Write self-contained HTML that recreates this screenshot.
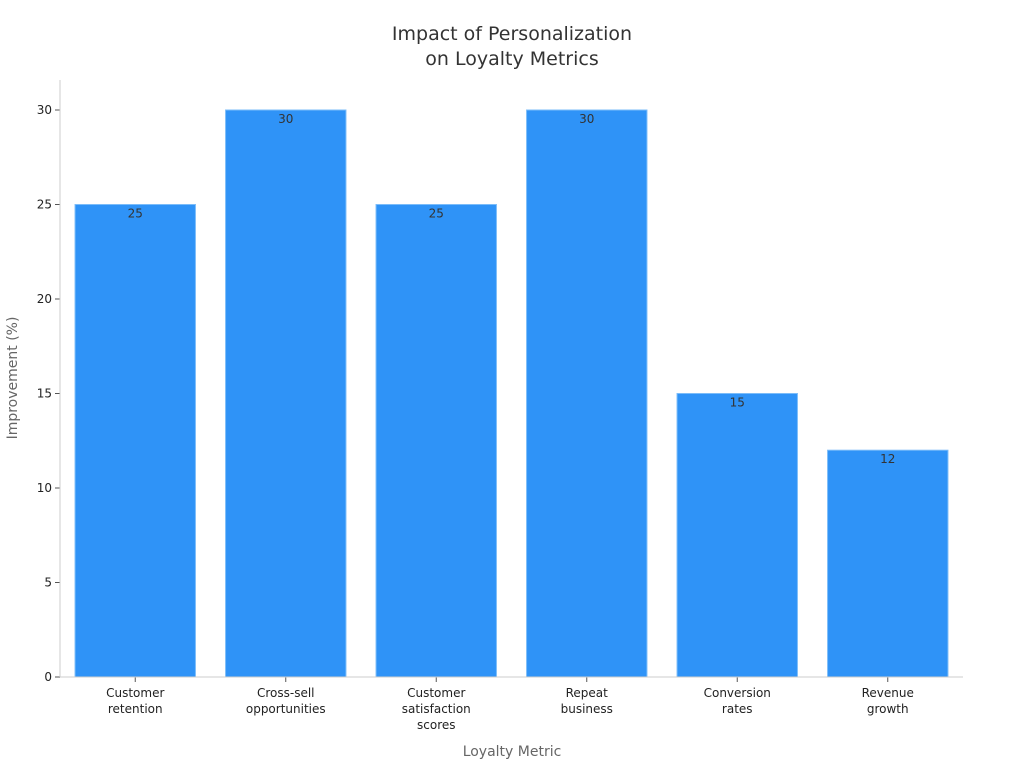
<!DOCTYPE html>
<html><head><meta charset="utf-8"><style>
body{margin:0;background:#fff;}
svg{display:block;font-family:"DejaVu Sans","Liberation Sans",sans-serif;}
</style></head><body>
<svg id="chart" width="1024" height="768">
<text x="512" y="40" text-anchor="middle" font-size="19" fill="#333"><tspan x="512">Impact of Personalization</tspan><tspan x="512" dy="25">on Loyalty Metrics</tspan></text>
<g id="grid"></g><g id="bars"></g><g id="axes"></g>
<text x="512" y="756" text-anchor="middle" font-size="14" fill="#666">Loyalty Metric</text>
<text transform="translate(17,378) rotate(-90)" text-anchor="middle" font-size="14" fill="#666">Improvement (%)</text>
</svg>
<script>
const categories=[["Customer","retention"],["Cross-sell","opportunities"],["Customer","satisfaction","scores"],["Repeat","business"],["Conversion","rates"],["Revenue","growth"]];
const values=[25,30,25,30,15,12];
const yTicks=[0,5,10,15,20,25,30];
const NS="http://www.w3.org/2000/svg";
const x0=60,x1=963,y0=677,yTop=110,yMax=30;
const band=(x1-x0)/categories.length;
const yS=v=>y0-(v/yMax)*(y0-yTop);
const xC=i=>x0+band*(i+0.5);
function mk(t,a,p){const e=document.createElementNS(NS,t);for(const k in a)e.setAttribute(k,a[k]);p.appendChild(e);return e;}
const bars=document.getElementById('bars'),axes=document.getElementById('axes');
values.forEach((v,i)=>{
 const bw=band*0.8;
 const r=mk('rect',{x:xC(i)-bw/2,y:yS(v),width:bw,height:y0-yS(v),fill:'#2f93f7',stroke:'#7bbcf9','stroke-width':1},bars);
 
 
 const t=mk('text',{x:xC(i),y:yS(v)+13,'text-anchor':'middle','font-size':12,fill:'#333'},bars);
 t.textContent=v;
 
 
 const tk=mk('line',{x1:xC(i),x2:xC(i),y1:y0,y2:y0+5,stroke:'#555'},axes);
 
 
 const lab=mk('text',{'text-anchor':'middle','font-size':12,fill:'#222'},axes);
 
 
 categories[i].forEach((s,j)=>{const ts=mk('tspan',{x:xC(i),y:697+j*16},lab);ts.textContent=s;});
});
yTicks.forEach(v=>{
 const l=mk('line',{x1:x0-5,x2:x0,y1:yS(v),y2:yS(v),stroke:'#555'},axes);
 
 
 const t=mk('text',{x:x0-8,y:yS(v)+4,'text-anchor':'end','font-size':12,fill:'#222'},axes);
 t.textContent=v;
 
 
});
const ya=mk('line',{x1:x0,x2:x0,y1:80,y2:y0,stroke:'#ccc'},axes);


const xa=mk('line',{x1:x0,x2:x1,y1:y0,y2:y0,stroke:'#ccc'},axes);


</script>
</body></html>
